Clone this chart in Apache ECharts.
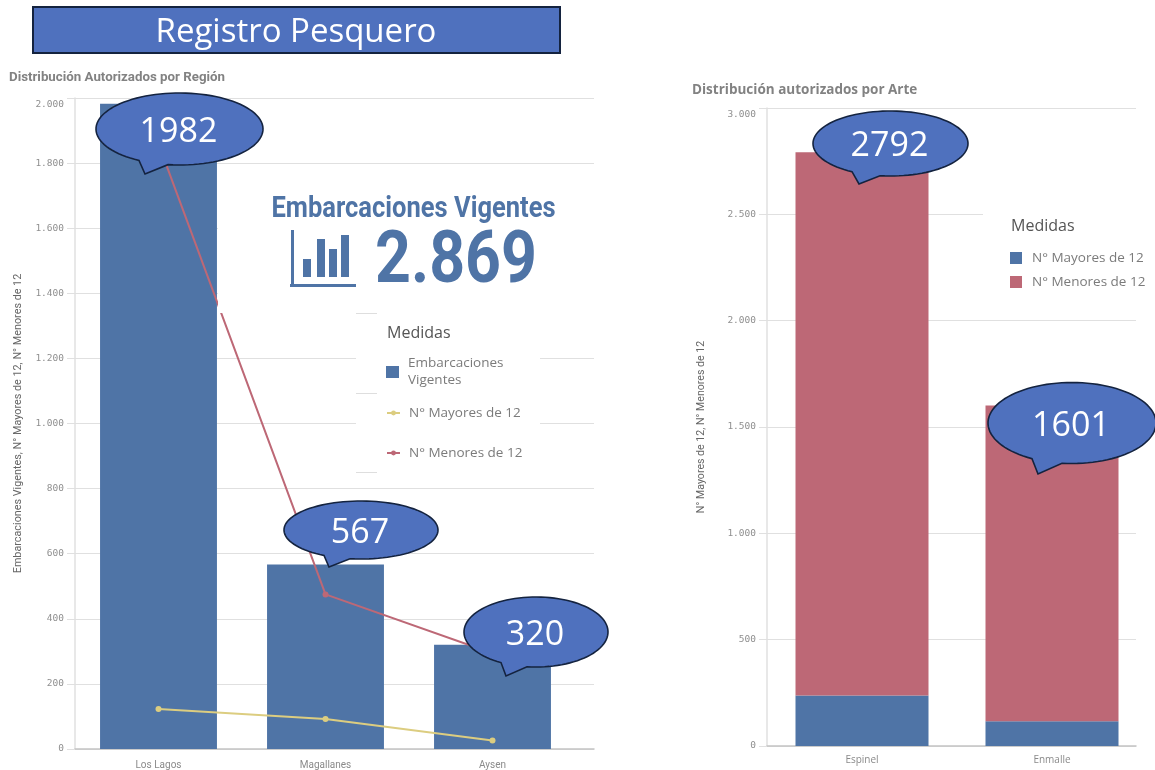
<!DOCTYPE html>
<html><head><meta charset="utf-8">
<style>html,body{margin:0;padding:0;background:#fff;width:1155px;height:770px;overflow:hidden}
#l{position:absolute;left:0;top:0;width:650px;height:770px}
#r{position:absolute;left:650px;top:0;width:505px;height:770px}</style>
<script src="https://cdn.jsdelivr.net/npm/echarts@6/dist/echarts.min.js"></script>
</head><body><div id="l"></div><div id="r"></div>
<script>
const regionCategories = ['Los Lagos','Magallanes','Aysen'];
const regionVigentes = [1982,567,320];
const regionMayores = [123,92,26];
const regionMenores = [1859,475,294];
const arteCategories = ['Espinel','Enmalle'];
const arteMayores = [238,116];
const arteMenores = [2554,1485];
const arteTotals = [2792,1601];
const kpiValue = '2.869';
const BLUE='#4f74a6', RED='#bd6876', YEL='#dccd80', FILL='#4f71be', EDGE='#14233f', GRID='#e0e0e0', TICK='#8f8f8f';
const fmt = v => v>=1000 ? String(v).replace(/(\d)(\d{3})$/,'$1.$2') : String(v);

function pathCallout(label,cx,cy,rx,ry,bl,br,tx,ty,dx){
  dx = dx||0;
  const yOn = x => cy + ry*Math.sqrt(Math.max(0,1-Math.pow((x-cx)/rx,2)));
  const pts=[];
  const a0=Math.atan2((yOn(br)-cy)/ry,(br-cx)/rx), a1=Math.atan2((yOn(bl)-cy)/ry,(bl-cx)/rx);
  for(let i=0;i<=96;i++){const a=a0-(2*Math.PI-(a1-a0))*i/96; pts.push([cx+rx*Math.cos(a)-dx,cy+ry*Math.sin(a)]);}
  pts.push([tx-dx,ty]);
  return [
    {type:'polygon',z:10,shape:{points:pts},style:{fill:FILL,stroke:EDGE,lineWidth:1.6}},
    {type:'text',z:11,x:cx-dx-1,y:cy+3,style:{text:String(label),fill:'#fff',font:'34px "Open Sans"',align:'center',verticalAlign:'middle'}}
  ];
}
const cover=(x,y,w,h)=>({type:'rect',z:3,shape:{x,y,width:w,height:h},style:{fill:'#fff'}});
const bar=(x,y,w,h,c)=>({type:'rect',z:5,shape:{x,y,width:w,height:h},style:{fill:c}});
const stub=(x,y,w)=>({type:'rect',z:3.5,shape:{x,y,width:w,height:1},style:{fill:'#dedede'}});

function yAxisVisible(gi,max,interval,name,gap,nameSize){
  return {gridIndex:gi,type:'value',min:0,max,interval,name,nameLocation:'middle',nameGap:gap,
    nameTextStyle:{fontFamily:'Roboto',fontSize:nameSize,color:'#666'},
    axisLine:{show:true,lineStyle:{color:GRID,width:1.5}},axisTick:{show:true,length:8,lineStyle:{color:GRID}},
    axisLabel:{margin:11,fontFamily:'DejaVu Sans Mono',fontSize:9.5,color:TICK,formatter:fmt,verticalAlignMaxLabel:'top',padding:[2,0,0,0]},
    splitLine:{show:true,lineStyle:{color:GRID,width:1.2}}};
}
function yAxisHidden(gi,max){return {gridIndex:gi,type:'value',min:0,max,show:false,splitLine:{show:false}};}
function xEmpty(gi){return {gridIndex:gi,type:'category',data:[],axisLine:{show:true,lineStyle:{color:'#c4c4c4',width:1.5}},axisTick:{show:false},axisLabel:{show:false}};}
function xCats(gi,data,family,margin){return {gridIndex:gi,type:'category',data,axisLine:{show:false},axisTick:{show:false},
    axisLabel:{margin,fontFamily:family,fontSize:10,color:'#8a8a8a'}};}

const left = echarts.init(document.getElementById('l'));
left.setOption({
  animation:false,
  title:{text:'Distribución Autorizados por Región',left:4,top:66,textStyle:{fontFamily:'Roboto',fontWeight:'bold',fontSize:13.3,color:'#828282'}},
  grid:[{left:75,top:98,width:519,height:651},{left:75,top:98,width:501,height:651}],
  xAxis:[xEmpty(0),xCats(1,regionCategories,'Roboto',11)],
  yAxis:[yAxisVisible(0,2000,200,'Embarcaciones Vigentes, N° Mayores de 12, N° Menores de 12',51,10.8),yAxisHidden(1,2000)],
  legend:[
    {left:381,top:350,orient:'vertical',data:[{name:'Embarcaciones Vigentes',icon:'rect'}],itemWidth:13,itemHeight:12,
     formatter:()=>'Embarcaciones\nVigentes',textStyle:{fontFamily:'Open Sans',fontSize:13.5,lineHeight:17,color:'#7b7b7b',padding:[0,0,0,4]}},
    {left:381,top:400,orient:'vertical',itemGap:24,data:['N° Mayores de 12','N° Menores de 12'],itemWidth:13,itemHeight:6,
     textStyle:{fontFamily:'Open Sans',fontSize:13.5,lineHeight:16,color:'#7b7b7b',padding:[0,0,0,4]}}
  ],
  series:[
    {name:'Embarcaciones Vigentes',type:'bar',xAxisIndex:1,yAxisIndex:1,data:regionVigentes,barWidth:'70%',itemStyle:{color:BLUE},z:2},
    {name:'N° Mayores de 12',type:'line',xAxisIndex:1,yAxisIndex:1,data:regionMayores,symbol:'circle',symbolSize:6,lineStyle:{color:YEL,width:2},itemStyle:{color:YEL},z:2.5},
    {name:'N° Menores de 12',type:'line',xAxisIndex:1,yAxisIndex:1,data:regionMenores,symbol:'circle',symbolSize:6,lineStyle:{color:RED,width:2},itemStyle:{color:RED},z:2.5}
  ],
  graphic:[
    {type:'rect',z:5,shape:{x:33,y:7,width:527,height:46},style:{fill:FILL,stroke:EDGE,lineWidth:2}},
    {type:'text',z:6,x:296,y:33,style:{text:'Registro Pesquero',fill:'#fff',font:'33px "Open Sans"',align:'center',verticalAlign:'middle'}},
    cover(218,170,380,143),cover(356,313,184,162),
    stub(356,313,21),stub(356,393,21),stub(356,472,21),
    {type:'text',z:5,x:413.5,y:210,scaleX:.88,style:{text:'Embarcaciones Vigentes',fill:BLUE,font:'bold 29px Roboto',align:'center',verticalAlign:'middle'}},
    {type:'text',z:5,x:456,y:264,scaleX:.87,style:{text:kpiValue,fill:BLUE,font:'bold 72px Roboto',align:'center',verticalAlign:'middle'}},
    bar(291,230,3,57,BLUE),bar(290,284,66,3,BLUE),
    bar(303,259,8,18,BLUE),bar(317,239,8,38,BLUE),bar(329,249,8,28,BLUE),bar(341,235,8,42,BLUE),
    {type:'text',z:5,x:387,y:333,style:{text:'Medidas',fill:'#555',font:'16px "Open Sans"',align:'left',verticalAlign:'middle'}},
    ...pathCallout(regionVigentes[0],179.5,129,83.5,36,139,168,145,174),
    ...pathCallout(regionVigentes[1],361,530,77,29,324,350,329,567),
    ...pathCallout(regionVigentes[2],536,632,72,35,501,527,506,676)
  ]
});

const O=650;
const right = echarts.init(document.getElementById('r'));
right.setOption({
  animation:false,
  title:{text:'Distribución autorizados por Arte',left:687-O,top:78,textStyle:{fontFamily:'Open Sans',fontWeight:'bold',fontSize:13.5,color:'#828282'}},
  grid:[{left:767-O,top:108,width:369,height:638},{left:767-O,top:108,width:380,height:638}],
  xAxis:[xEmpty(0),xCats(1,arteCategories,'Open Sans',9)],
  yAxis:[yAxisVisible(0,3000,500,'N° Mayores de 12, N° Menores de 12',60,10.6),yAxisHidden(1,3000)],
  legend:{left:1005-O,top:245,orient:'vertical',itemGap:8,itemWidth:12,itemHeight:12,icon:'rect',data:['N° Mayores de 12','N° Menores de 12'],
    textStyle:{fontFamily:'Open Sans',fontSize:13.5,lineHeight:16,color:'#7b7b7b',padding:[0,0,0,5]}},
  series:[
    {name:'N° Mayores de 12',type:'bar',stack:'a',xAxisIndex:1,yAxisIndex:1,data:arteMayores,barWidth:'70%',itemStyle:{color:BLUE},z:2},
    {name:'N° Menores de 12',type:'bar',stack:'a',xAxisIndex:1,yAxisIndex:1,data:arteMenores,barWidth:'70%',itemStyle:{color:RED},z:2}
  ],
  graphic:[
    cover(983-O,200,172,100),
    {type:'text',z:5,x:1011-O,y:226,style:{text:'Medidas',fill:'#555',font:'16px "Open Sans"',align:'left',verticalAlign:'middle'}},
    ...pathCallout(arteTotals[0],890.5,143.5,77.5,32.5,852,880,859,184,O),
    ...pathCallout(arteTotals[1],1072,423,84,40.5,1032,1062,1038,474,O)
  ]
});
</script></body></html>
